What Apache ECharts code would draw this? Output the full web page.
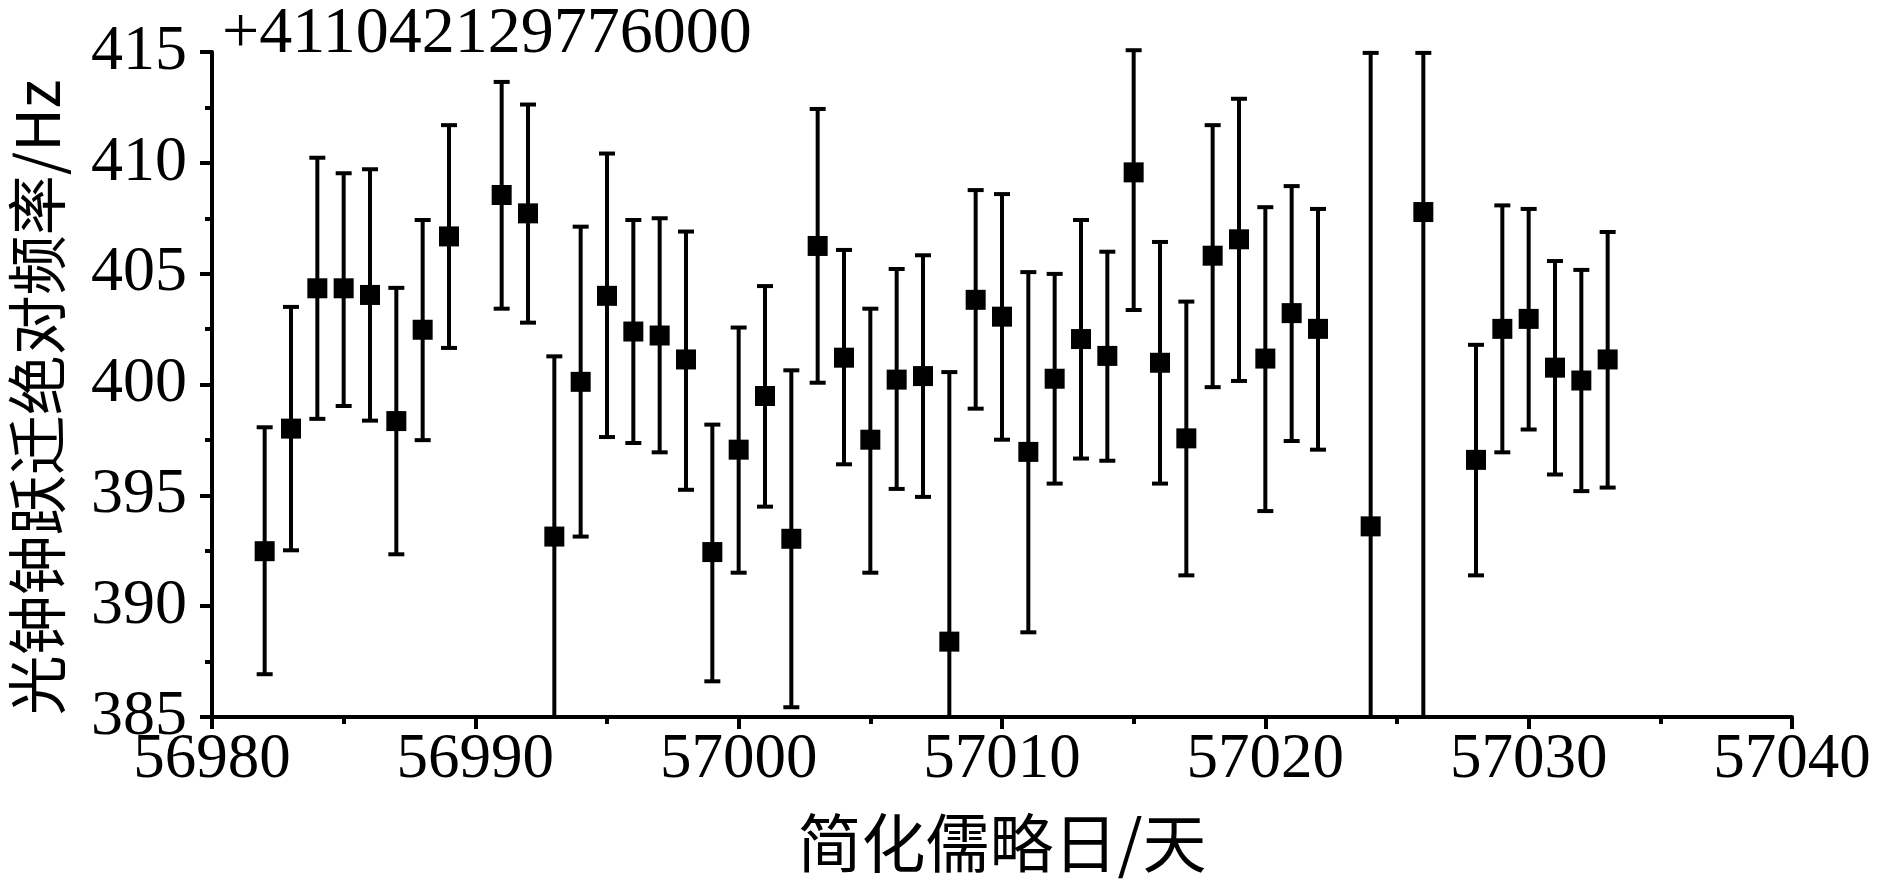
<!DOCTYPE html>
<html>
<head>
<meta charset="utf-8">
<script src="https://cdn.jsdelivr.net/npm/echarts@6/dist/echarts.min.js"></script>
<style>
html,body{margin:0;padding:0;background:#fff;}
#chart{width:1878px;height:891px;}
</style>
</head>
<body>
<div id="chart"></div>
<script>
// Modified Julian Day of each measurement
const days = [56982,56983,56984,56985,56986,56987,56988,56989,56991,56992,56993,56994,56995,56996,56997,56998,56999,57000,57001,57002,57003,57004,57005,57006,57007,57008,57009,57010,57011,57012,57013,57014,57015,57016,57017,57018,57019,57020,57021,57022,57024,57026,57028,57029,57030,57031,57032,57033];
// Frequency offset (Hz) above 411042129776000 Hz
const values = [392.48,398.01,404.34,404.34,404.04,398.35,402.47,406.68,408.55,407.72,393.14,400.12,404.00,402.39,402.21,401.13,392.44,397.06,399.48,393.04,406.25,401.21,397.51,400.22,400.38,388.40,403.82,403.06,396.96,400.26,402.05,401.29,409.57,400.98,397.57,405.81,406.55,401.17,403.22,402.51,393.60,407.78,396.60,402.51,402.96,400.76,400.18,401.13];
// Error bar upper ends
const highs = [398.07,403.50,410.23,409.53,409.71,404.36,407.42,411.70,413.65,412.63,401.27,407.12,410.42,407.42,407.50,406.90,398.19,402.57,404.44,400.64,412.43,406.07,403.42,405.21,405.83,400.56,408.77,408.59,405.07,404.99,407.42,405.99,415.08,406.43,403.74,411.70,412.89,408.00,408.95,407.92,414.96,414.96,401.79,408.08,407.92,405.57,405.17,406.88];
// Error bar lower ends
const lows = [386.93,392.52,398.45,399.03,398.37,392.34,397.49,401.65,403.42,402.79,385.00,393.14,397.63,397.36,396.94,395.25,386.61,391.51,394.49,385.44,400.08,396.40,391.51,395.29,394.93,376.24,398.91,397.51,388.82,395.53,396.66,396.56,403.36,395.53,391.39,399.88,400.16,394.29,397.45,397.06,372.20,380.00,391.39,396.94,397.97,395.94,395.19,395.35];

const xTicks = {min: 56980, max: 57040, interval: 10};
const yTicks = {min: 385, max: 415, interval: 5};
const offsetLabel = '+411042129776000';
const xTitle = '简化儒略日/天';
const yTitle = '光钟钟跃迁绝对频率/Hz';

const pointData = days.map((d, i) => [d, values[i]]);
const errData = days.map((d, i) => [d, lows[i], highs[i]]);

const numFont = '"Liberation Serif", "DejaVu Serif", serif';
const cjkFont = '"Noto Sans CJK SC", "Liberation Serif", serif';
const LW = 4;

const chart = echarts.init(document.getElementById('chart'), null, {renderer: 'canvas'});
chart.setOption({
  backgroundColor: '#ffffff',
  animation: false,
  grid: {left: 212, right: 86, top: 52, bottom: 174, containLabel: false, outerBoundsMode: 'none'},
  xAxis: {
    type: 'value',
    min: xTicks.min, max: xTicks.max, interval: xTicks.interval,
    name: xTitle, nameLocation: 'middle', nameGap: 94,
    nameTextStyle: {fontFamily: cjkFont, fontSize: 64, color: '#000'},
    axisLine: {show: true, onZero: false, lineStyle: {color: '#000', width: LW}},
    axisTick: {show: true, inside: false, length: 12, lineStyle: {color: '#000', width: LW}},
    minorTick: {show: true, splitNumber: 2, length: 7, lineStyle: {color: '#000', width: LW}},
    axisLabel: {margin: 12, fontFamily: numFont, fontSize: 63, color: '#000',
      formatter: v => String(v)},
    splitLine: {show: false}
  },
  yAxis: {
    type: 'value',
    min: yTicks.min, max: yTicks.max, interval: yTicks.interval,
    name: yTitle, nameLocation: 'middle', nameGap: 145, nameRotate: 90,
    nameTextStyle: {fontFamily: cjkFont, fontSize: 60, color: '#000', padding: [0, 26, 0, 0]},
    axisLine: {show: true, onZero: false, lineStyle: {color: '#000', width: LW}},
    axisTick: {show: true, inside: false, length: 12, lineStyle: {color: '#000', width: LW}},
    minorTick: {show: true, splitNumber: 2, length: 7, lineStyle: {color: '#000', width: LW}},
    axisLabel: {margin: 25, fontFamily: numFont, fontSize: 64, color: '#000'},
    splitLine: {show: false}
  },
  graphic: [{
    type: 'text', left: 222, top: 2, z: 100,
    style: {text: offsetLabel, font: '66px ' + numFont, fill: '#000'}
  }],
  series: [
    {
      type: 'custom',
      name: 'err',
      data: errData,
      z: 2,
      renderItem: function (params, api) {
        const cs = params.coordSys;
        const x = api.value(0);
        const lo = api.value(1), hi = api.value(2);
        const pLo = api.coord([x, lo]);
        const pHi = api.coord([x, hi]);
        const bottomY = cs.y + cs.height;
        const capW = 8;
        const children = [];
        let yLo = pLo[1];
        let loClipped = false;
        if (lo <= yTicks.min) { yLo = bottomY; loClipped = true; }
        children.push({type: 'line', shape: {x1: pHi[0], y1: pHi[1], x2: pLo[0], y2: yLo},
          style: {stroke: '#000', lineWidth: LW}});
        children.push({type: 'line', shape: {x1: pHi[0] - capW, y1: pHi[1], x2: pHi[0] + capW, y2: pHi[1]},
          style: {stroke: '#000', lineWidth: LW}});
        if (!loClipped) {
          children.push({type: 'line', shape: {x1: pLo[0] - capW, y1: yLo, x2: pLo[0] + capW, y2: yLo},
            style: {stroke: '#000', lineWidth: LW}});
        }
        return {type: 'group', children: children};
      }
    },
    {
      type: 'scatter',
      name: 'freq',
      data: pointData,
      symbol: 'rect',
      symbolSize: 20,
      itemStyle: {color: '#000', opacity: 1},
      z: 3
    }
  ]
});
</script>
</body>
</html>
